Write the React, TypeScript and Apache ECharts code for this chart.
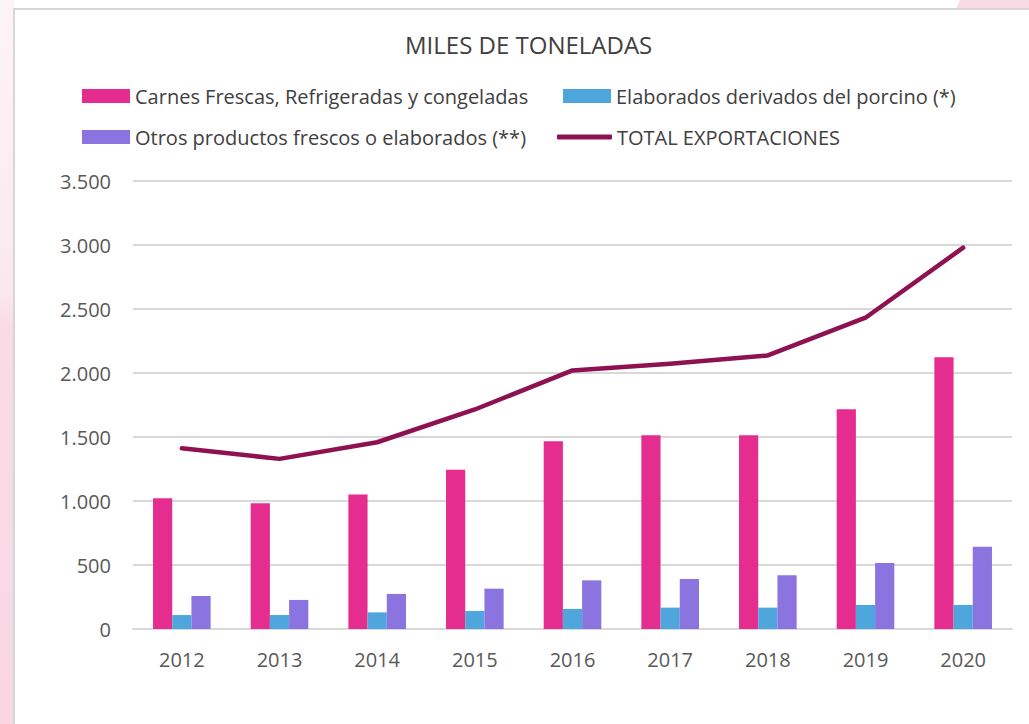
import React, { useEffect, useRef } from "react";
import * as echarts from "echarts";

const categories = ["2012", "2013", "2014", "2015", "2016", "2017", "2018", "2019", "2020"];
const carnes = [1021, 982, 1050, 1245, 1467, 1514, 1514, 1717, 2124];
const elaborados = [109, 109, 130, 141, 157, 167, 167, 188, 188];
const otros = [258, 227, 274, 315, 380, 391, 419, 516, 643];
const total = [1412, 1329, 1459, 1715, 2020, 2072, 2137, 2432, 2979];

const seriesNames = [
  "Carnes Frescas, Refrigeradas y congeladas",
  "Elaborados derivados del porcino (*)",
  "Otros productos frescos o elaborados (**)",
  "TOTAL EXPORTACIONES",
];

const FONT = "'Open Sans', 'Noto Sans', sans-serif";

export default function App() {
  const ref = useRef<HTMLDivElement>(null);
  useEffect(() => {
    if (!ref.current) return;
    const chart = echarts.init(ref.current, undefined, { renderer: "svg" });
    const legendText = { color: "#404040", fontSize: 20, fontFamily: FONT };
    const common = { padding: 0, textStyle: legendText };
    chart.setOption({
      animation: false,
      backgroundColor: "#ffffff",
      graphic: [
        {
          type: "rect",
          silent: true,
          z: -10,
          shape: { x: 0, y: 0, width: 14, height: 724 },
          style: {
            fill: new echarts.graphic.LinearGradient(0, 0, 0, 1, [
              { offset: 0, color: "#fdf4f7" },
              { offset: 0.4, color: "#fbe8ef" },
              { offset: 0.45, color: "#f9dbe6" },
              { offset: 1, color: "#f8d7e3" },
            ]),
          },
        },
        {
          type: "polygon",
          silent: true,
          z: -10,
          shape: { points: [[960, 0], [1029, 0], [1029, 9], [956, 9]] },
          style: { fill: "#f8dbe5" },
        },
        {
          type: "rect",
          silent: true,
          z: -9,
          shape: { x: 14, y: 9, width: 1100, height: 800 },
          style: { fill: "#ffffff", stroke: "#d6d6d6", lineWidth: 2 },
        },
      ],
      title: {
        text: "MILES DE TONELADAS",
        left: 405,
        top: 32,
        padding: 0,
        textStyle: { color: "#404040", fontSize: 24, fontWeight: "normal", fontFamily: FONT },
      },
      legend: [
        {
          ...common,
          data: [seriesNames[0]],
          left: 82,
          top: 86,
          itemWidth: 48,
          itemHeight: 14,
          icon: "rect",
        },
        {
          ...common,
          data: [seriesNames[1]],
          left: 563,
          top: 86,
          itemWidth: 48,
          itemHeight: 14,
          icon: "rect",
        },
        {
          ...common,
          data: [seriesNames[2]],
          left: 82,
          top: 127,
          itemWidth: 48,
          itemHeight: 14,
          icon: "rect",
        },
        {
          ...common,
          data: [seriesNames[3]],
          left: 557,
          top: 127,
          itemWidth: 55,
          itemHeight: 5,
          icon: "roundRect",
        },
      ],
      grid: { left: 133, right: 17, top: 181, bottom: 95, containLabel: false },
      xAxis: {
        type: "category",
        data: categories,
        axisLine: { show: true, lineStyle: { color: "#d9d9d9", width: 2 } },
        axisTick: { show: false },
        axisLabel: { color: "#595959", fontSize: 20, fontFamily: FONT, margin: 20 },
      },
      yAxis: {
        type: "value",
        min: 0,
        max: 3500,
        interval: 500,
        axisLine: { show: false },
        axisTick: { show: false },
        splitLine: { lineStyle: { color: "#d9d9d9", width: 2 } },
        axisLabel: {
          color: "#595959",
          fontSize: 20,
          fontFamily: FONT,
          margin: 22,
          formatter: (v: number) => v.toLocaleString("de-DE"),
        },
      },
      series: [
        {
          name: seriesNames[0],
          type: "bar",
          data: carnes,
          barGap: "0%",
          barCategoryGap: "41%",
          itemStyle: { color: "#e52d8f" },
        },
        {
          name: seriesNames[1],
          type: "bar",
          data: elaborados,
          itemStyle: { color: "#4ea6dc" },
        },
        {
          name: seriesNames[2],
          type: "bar",
          data: otros,
          itemStyle: { color: "#8b73e0" },
        },
        {
          name: seriesNames[3],
          type: "line",
          data: total,
          symbol: "none",
          z: 5,
          itemStyle: { color: "#8e1152" },
          lineStyle: { color: "#8e1152", width: 4.5, cap: "round", join: "round" },
        },
      ],
    });
    return () => chart.dispose();
  }, []);
  return (
    <div
      ref={ref}
      style={{ position: "fixed", left: 0, top: 0, width: 1029, height: 724 }}
    />
  );
}
